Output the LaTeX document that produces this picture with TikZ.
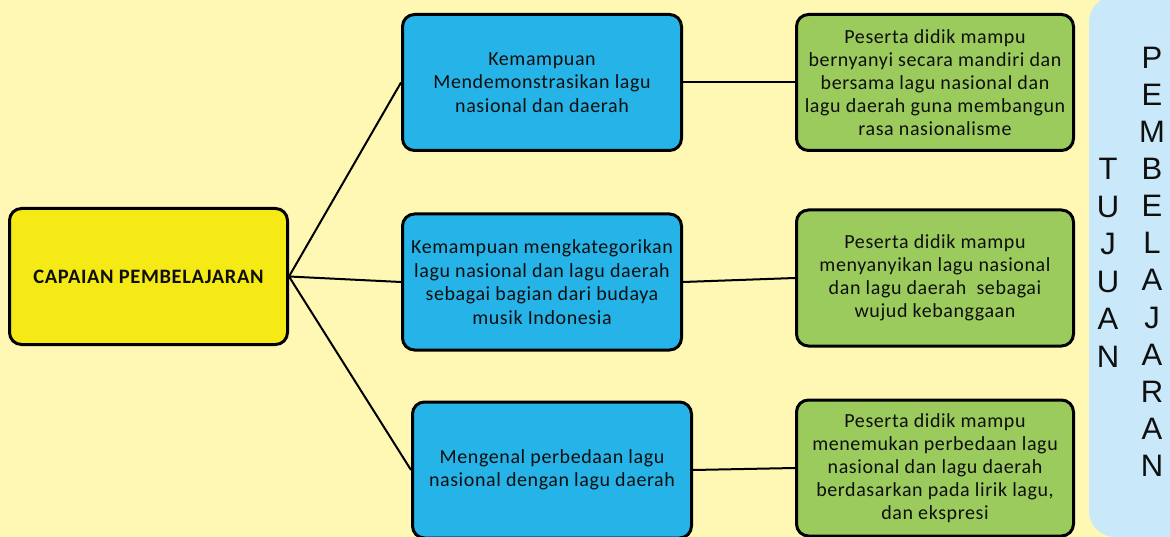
\documentclass[tikz,border=0pt]{standalone}
\usepackage{fontspec}
\setmainfont{Carlito}[LetterSpace=3]
\newfontfamily\arialfont{Liberation Sans}
\definecolor{bgyellow}{RGB}{255,248,180}
\definecolor{boxyellow}{RGB}{245,233,22}
\definecolor{boxblue}{RGB}{38,180,232}
\definecolor{boxgreen}{RGB}{155,203,92}
\definecolor{panelblue}{RGB}{201,232,249}
\definecolor{txt}{RGB}{15,15,15}
\tikzset{
  box/.style={draw=black, line width=3pt, rounded corners=12pt, align=center,
    font=\fontsize{20}{23.5}\selectfont, text=txt, inner sep=0pt},
  ybox/.style={box, fill=boxyellow, minimum width=278pt, minimum height=136pt,
    font=\fontsize{20.5}{23.5}\selectfont\bfseries},
  bbox/.style={box, fill=boxblue, minimum width=279pt, minimum height=136pt},
  gbox/.style={box, fill=boxgreen, minimum width=277pt, minimum height=136pt,
    font=\fontsize{20}{23}\selectfont},
  link/.style={line width=2pt, black},
  letter/.style={font=\arialfont\fontsize{31}{31}\selectfont, text=txt, anchor=base, inner sep=0pt}
}
\begin{document}
\begin{tikzpicture}[x=1pt,y=-1pt]
\useasboundingbox (0,0) rectangle (1170,537);
\clip (0,0) rectangle (1170,537);
\fill[bgyellow] (0,0) rectangle (1170,537);
% right panel
\fill[panelblue, rounded corners=26pt] (1089,-4) rectangle (1200,537);
% boxes
\node[ybox] (cp) at (148.5,276.5) {CAPAIAN PEMBELAJARAN};
\node[bbox] (b1) at (542,82.5) {Kemampuan\\Mendemonstrasikan lagu\\nasional dan daerah};
\node[bbox] (b2) at (542,282) {Kemampuan mengkategorikan\\lagu nasional dan lagu daerah\\sebagai bagian dari budaya\\musik Indonesia};
\node[bbox] (b3) at (552,470) {Mengenal perbedaan lagu\\nasional dengan lagu daerah};
\node[gbox] (g1) at (935,82.5) {Peserta didik mampu\\bernyanyi secara mandiri dan\\bersama lagu nasional dan\\lagu daerah guna membangun\\rasa nasionalisme};
\node[gbox] (g2) at (935,278) {Peserta didik mampu\\menyanyikan lagu nasional\\dan lagu daerah\ \ sebagai\\wujud kebanggaan};
\node[gbox] (g3) at (935,468) {Peserta didik mampu\\menemukan perbedaan lagu\\nasional dan lagu daerah\\berdasarkan pada lirik lagu,\\dan ekspresi};
% connectors
\draw[link] (cp.east) -- (b1.west);
\draw[link] (cp.east) -- (b2.west);
\draw[link] (cp.east) -- (b3.west);
\draw[link] (b1.east) -- (g1.west);
\draw[link] (b2.east) -- (g2.west);
\draw[link] (b3.east) -- (g3.west);
% vertical texts
\foreach \l [count=\i] in {T,U,J,U,A,N}
  \node[letter] (tj\i) at (1108,{180+37.4*(\i-1)}) {\l};
\foreach \l [count=\i] in {P,E,M,B,E,L,A,J,A,R,A,N}
  \node[letter] (pb\i) at (1152,{69+37*(\i-1)}) {\l};
\end{tikzpicture}
\end{document}
